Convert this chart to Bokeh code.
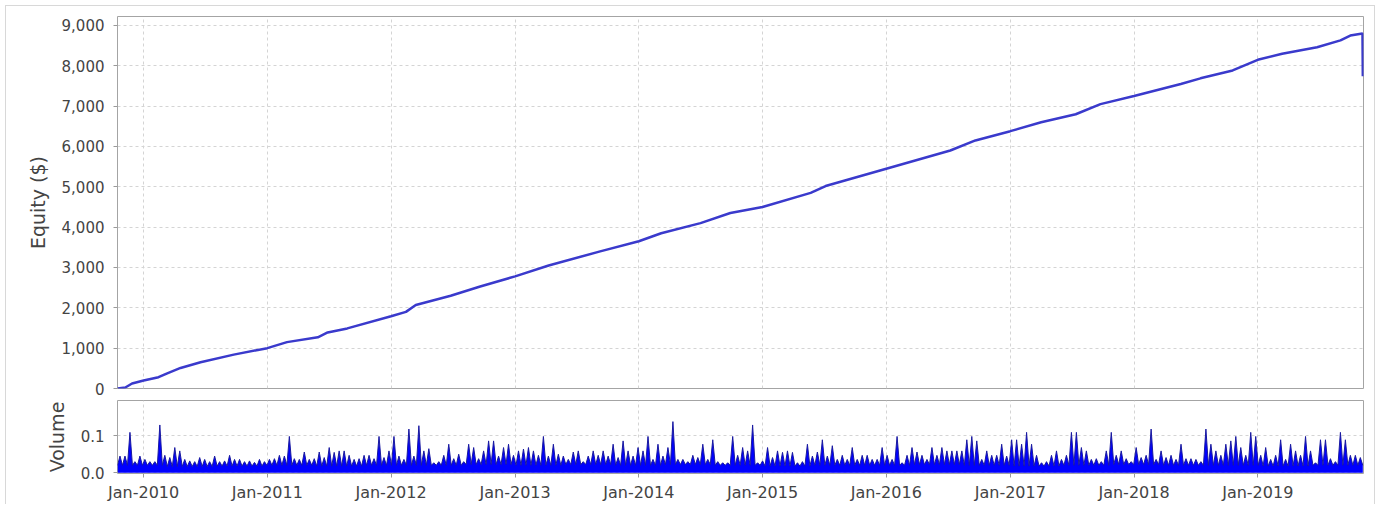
import numpy as np
import pandas as pd
from bokeh.plotting import figure
from bokeh.layouts import column
from bokeh.models import (FixedTicker, NumeralTickFormatter, DatetimeTickFormatter,
                          Range1d, ColumnDataSource)
from bokeh.embed import file_html
from bokeh.resources import INLINE

# ---------------- data ----------------
x_start = "2009-10-16"
x_end = "2019-11-09"

equity_dates = ["2009-10-16", "2009-11-08", "2009-11-28", "2010-01-01", "2010-02-14",
                "2010-03-10", "2010-04-20", "2010-06-18", "2010-09-24", "2011-01-01",
                "2011-02-28", "2011-05-30", "2011-06-28", "2011-08-25", "2012-01-01",
                "2012-02-14", "2012-03-14", "2012-06-25", "2012-09-20", "2013-01-01",
                "2013-04-10", "2013-09-09", "2014-01-01", "2014-03-08", "2014-07-02",
                "2014-09-28", "2015-01-01", "2015-05-23", "2015-07-06", "2016-01-01",
                "2016-07-08", "2016-09-20", "2017-01-01", "2017-04-02", "2017-07-13",
                "2017-09-24", "2018-01-01", "2018-05-19", "2018-07-16", "2018-10-19",
                "2019-01-01", "2019-03-14", "2019-06-25", "2019-09-02", "2019-10-01",
                "2019-11-06", "2019-11-07"]
equity_values = [0, 25, 125, 200, 280, 370, 510, 650, 840, 1000,
                 1150, 1270, 1390, 1490, 1790, 1900, 2070, 2300, 2530, 2780,
                 3050, 3400, 3650, 3850, 4100, 4350, 4500, 4850, 5020, 5450,
                 5900, 6150, 6380, 6600, 6800, 7050, 7250, 7550, 7690, 7885,
                 8150, 8300, 8460, 8630, 8750, 8800, 7740]

volume_peaks = [
    0.045, 0.045, 0.109, 0.03, 0.045, 0.036, 0.03, 0.03, 0.129, 0.047,
    0.041, 0.068, 0.059, 0.036, 0.032, 0.03, 0.041, 0.036, 0.03, 0.045,
    0.03, 0.032, 0.047, 0.036, 0.036, 0.03, 0.032, 0.028, 0.036, 0.03,
    0.036, 0.038, 0.047, 0.045, 0.098, 0.038, 0.036, 0.056, 0.036, 0.038,
    0.056, 0.041,
    0.068, 0.055, 0.059, 0.059, 0.047, 0.036, 0.038, 0.047, 0.047, 0.038,
    0.098, 0.041, 0.059, 0.098, 0.045, 0.036, 0.118, 0.045, 0.127, 0.059,
    0.065, 0.027, 0.03, 0.047, 0.077, 0.038, 0.05, 0.03, 0.077, 0.068,
    0.038, 0.059, 0.086, 0.086, 0.045, 0.068, 0.077, 0.047, 0.059, 0.064,
    0.068, 0.059, 0.047, 0.098, 0.045, 0.077, 0.05, 0.045, 0.036, 0.056,
    0.059, 0.03, 0.045, 0.059, 0.047, 0.059, 0.045, 0.077, 0.041, 0.086,
    0.059, 0.045, 0.068, 0.059, 0.098, 0.036, 0.077, 0.045, 0.068, 0.138,
    0.036, 0.036, 0.03, 0.047, 0.041, 0.077, 0.036, 0.089, 0.03, 0.027, 0.027,
    0.098, 0.047, 0.068, 0.059, 0.129, 0.027, 0.032, 0.068, 0.041, 0.059,
    0.055, 0.059, 0.055, 0.027, 0.03, 0.077, 0.045, 0.056, 0.089, 0.045,
    0.073, 0.036, 0.047, 0.036, 0.068, 0.036, 0.047, 0.047, 0.036, 0.036,
    0.068, 0.047, 0.036, 0.098, 0.027, 0.047, 0.068, 0.056, 0.047, 0.036, 0.068,
    0.047, 0.068, 0.059, 0.059, 0.059, 0.059, 0.089, 0.098, 0.086, 0.036,
    0.059, 0.047, 0.047, 0.077, 0.045, 0.089, 0.089, 0.077, 0.109, 0.077,
    0.047, 0.027, 0.03, 0.047, 0.059, 0.036, 0.047, 0.109, 0.109, 0.068,
    0.059, 0.036, 0.038, 0.03, 0.059, 0.109, 0.047, 0.059, 0.038, 0.03, 0.068,
    0.041, 0.047, 0.118, 0.036, 0.059, 0.041, 0.047, 0.036, 0.077, 0.038,
    0.038, 0.036, 0.03, 0.118, 0.077, 0.059, 0.047, 0.077, 0.086, 0.098,
    0.068, 0.047, 0.109, 0.098, 0.047, 0.068, 0.036, 0.047, 0.089, 0.036,
    0.077, 0.059, 0.047, 0.098, 0.059, 0.027, 0.089, 0.089, 0.038, 0.03,
    0.109, 0.089, 0.047, 0.047, 0.041,
]
# base level of the dense volume fill, one value per 10 samples
volume_floor = [0.020, 0.017, 0.018, 0.020, 0.018, 0.020, 0.020, 0.022, 0.020, 0.022,
                0.020, 0.022, 0.020, 0.018, 0.020, 0.020, 0.022, 0.020, 0.018, 0.020,
                0.022, 0.020, 0.020, 0.018, 0.020]

equity_ticks = [0, 1000, 2000, 3000, 4000, 5000, 6000, 7000, 8000, 9000]
volume_ticks = [0.0, 0.1]
tick_years = [2010, 2011, 2012, 2013, 2014, 2015, 2016, 2017, 2018, 2019]

# ---------------- build sources ----------------
eq_src = ColumnDataSource(dict(x=pd.to_datetime(equity_dates), y=equity_values))

n = len(volume_peaks)
edges = pd.date_range(x_start, "2019-11-07", periods=n + 1)
centers = edges[:-1] + (edges[1:] - edges[:-1]) / 2
floor = np.repeat(volume_floor, 10)[:n]
xs, ys = [], []
for i in range(n):
    xs += [edges[i], centers[i]]
    ys += [floor[i], volume_peaks[i]]
xs.append(edges[n])
ys.append(floor[n - 1])
vol_src = ColumnDataSource(dict(x=xs, y=ys, z=[0.0] * len(xs)))

year_ticks = [pd.Timestamp(f"{y}-01-01").value / 1e6 for y in tick_years]

FONT = "DejaVu Sans"
TXT = "#444444"
GRID = "#d4d4d4"
OUTLINE = "#a4a4a4"

xr = Range1d(pd.Timestamp(x_start).to_pydatetime(), pd.Timestamp(x_end).to_pydatetime())


def style(p):
    p.outline_line_color = OUTLINE
    p.outline_line_width = 1
    p.background_fill_color = "white"
    p.border_fill_color = "white"
    for g in (p.xgrid, p.ygrid):
        g.grid_line_color = GRID
        g.grid_line_dash = "3 3"
        g.grid_line_width = 1
    for ax in (p.xaxis, p.yaxis):
        ax.axis_line_color = None
        ax.major_tick_line_color = "#999999"
        ax.major_tick_in = 0
        ax.major_tick_out = 4
        ax.minor_tick_line_color = None
        ax.major_label_text_font = FONT
        ax.major_label_text_font_size = "15px"
        ax.major_label_text_color = TXT
        ax.axis_label_text_font = FONT
        ax.axis_label_text_font_size = "19px"
        ax.axis_label_text_font_style = "normal"
        ax.axis_label_text_color = TXT


p1 = figure(x_axis_type="datetime", frame_width=1246, frame_height=372,
            min_border_left=111, min_border_right=11, min_border_top=10, min_border_bottom=11,
            x_range=xr, y_range=Range1d(0, 9223),
            output_backend="svg", toolbar_location=None)
style(p1)
p1.xaxis.visible = False
p1.xgrid.ticker = FixedTicker(ticks=year_ticks)
p1.yaxis.ticker = FixedTicker(ticks=equity_ticks)
p1.ygrid.ticker = FixedTicker(ticks=equity_ticks)
p1.yaxis.formatter = NumeralTickFormatter(format="0,0")
p1.yaxis.major_label_standoff = 9
p1.yaxis.axis_label = "Equity ($)"
p1.yaxis.axis_label_standoff = 10
p1.line("x", "y", source=eq_src, line_color="#3a3acc", line_width=2.5)

p2 = figure(x_axis_type="datetime", frame_width=1246, frame_height=73,
            min_border_left=111, min_border_right=11, min_border_top=1, min_border_bottom=20,
            x_range=p1.x_range, y_range=Range1d(-0.002, 0.195),
            output_backend="svg", toolbar_location=None)
style(p2)
p2.xaxis.ticker = FixedTicker(ticks=year_ticks)
p2.xgrid.ticker = FixedTicker(ticks=year_ticks)
p2.xaxis.formatter = DatetimeTickFormatter(years="%b-%Y", months="%b-%Y", days="%b-%Y")
p2.xaxis.major_label_text_font_size = "16px"
p2.xaxis.major_label_standoff = 5
p2.yaxis.ticker = FixedTicker(ticks=volume_ticks)
p2.ygrid.ticker = FixedTicker(ticks=volume_ticks)
p2.yaxis.formatter = NumeralTickFormatter(format="0.0")
p2.yaxis.major_label_standoff = 9
p2.yaxis.axis_label = "Volume"
p2.yaxis.axis_label_standoff = 10
p2.varea(x="x", y1="z", y2="y", source=vol_src, fill_color="#0000ff", fill_alpha=1.0)
p2.line("x", "y", source=vol_src, line_color="#1a1aa0", line_width=1)

layout = column(p1, p2, margin=(5, 0, 0, 5),
                styles={"border-top": "1px solid #d8d8d8",
                        "border-left": "1px solid #d8d8d8",
                        "border-right": "1px solid #d8d8d8"})

with open("out.html", "w") as f:
    f.write(file_html(layout, INLINE))
